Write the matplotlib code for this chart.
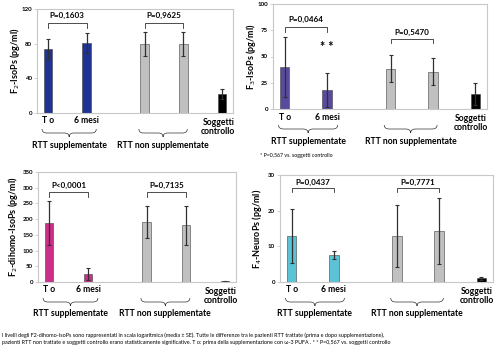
import numpy as np
import matplotlib.pyplot as plt
from matplotlib.path import Path
from matplotlib.patches import PathPatch
from matplotlib.transforms import blended_transform_factory

plt.rcParams['font.family'] = ['Lato', 'DejaVu Sans']

# bar positions: T0, 6 mesi | non suppl. T0, 6 mesi | controls
pos = [0, 1, 2.5, 3.5, 4.5]

f2_iso = [74, 81, 80, 79.5, 22]
f2_iso_err = [11.5, 11.5, 14, 14, 6]
f3_iso = [40, 18, 38.5, 35.5, 14.5]
f3_iso_err = [28.5, 16, 12.5, 13, 10.5]
f2_dihomo = [187, 26, 191, 180, 2]
f2_dihomo_err = [70, 19, 50, 61, 1]
f4_neuro = [12.9, 7.6, 13.0, 14.3, 1.0]
f4_neuro_err = [7.6, 1.2, 8.7, 9.2, 0.4]

W, H = 500, 353
fig = plt.figure(figsize=(W / 100, H / 100), dpi=100)


def fy(px):
    return 1 - px / H


def panel(rect_px, vals, errs, color, ylim, yticks, ylabel, pvals, ytext, ylab_x):
    l, r, t, b = rect_px
    ax = fig.add_axes([l / W, fy(b), (r - l) / W, (b - t) / H])
    cols = [color, color, '#c0c0c0', '#c0c0c0', 'black']
    ax.bar(pos, vals, width=0.22, color=cols, edgecolor='#404040', linewidth=0.4)
    ax.errorbar(pos, vals, yerr=errs, fmt='none', ecolor='#303030', elinewidth=0.9,
                capsize=1.2, capthick=0.8)
    ax.set_xlim(-0.28, 4.78)
    ax.set_ylim(*ylim)
    ax.set_yticks(yticks)
    ax.set_xticks([])
    ax.tick_params(axis='y', labelsize=4.4, length=2, width=0.5, pad=1.5, colors='#bfbfbf',
                   labelcolor='black')
    for lab in ax.get_yticklabels():
        lab.set_fontweight('bold')
    for s in ax.spines.values():
        s.set_color('#c8c8c8')
        s.set_linewidth(0.8)
    fig.text(ylab_x / W, fy((t + b) / 2), ylabel, rotation=90, fontsize=6.5,
             fontweight='bold', ha='center', va='center')

    tr = blended_transform_factory(ax.transData, fig.transFigure)
    # p-value brackets
    for (x0, x1, lab), (ty, top, down) in zip(pvals, ytext):
        ax.plot([x0, x0, x1, x1], [fy(down), fy(top), fy(top), fy(down)], color='#303030',
                lw=0.6, transform=tr, clip_on=False)
        ax.text((x0 + x1) / 2, fy(ty), lab, transform=tr, ha='center', va='center',
                fontsize=5.8, fontweight='bold')
    # category labels under axis
    y0 = b + 8
    ax.text(0, fy(y0), 'T o', transform=tr, ha='center', va='center', fontsize=6.2,
            fontweight='bold')
    ax.text(1, fy(y0), '6 mesi', transform=tr, ha='center', va='center', fontsize=6.2,
            fontweight='bold')
    ax.text(4.4, fy(y0 + 6), 'Soggetti\ncontrollo', transform=tr, ha='center',
            va='center', fontsize=6.2, fontweight='bold', linespacing=1.0)
    # braces
    for x0, x1, lab in [(-0.15, 1.25, 'RTT supplementate'),
                        (2.35, 3.6, 'RTT non supplementate')]:
        ya, yb, yc = fy(b + 16), fy(b + 20), fy(b + 24)
        xm = (x0 + x1) / 2
        dx = 0.12
        verts = [(x0, ya), (x0, yb), (x0 + dx, yb), (xm - dx, yb), (xm, yb), (xm, yc),
                 (xm, yb), (xm + dx, yb), (x1 - dx, yb), (x1, yb), (x1, ya)]
        codes = [Path.MOVETO, Path.CURVE3, Path.CURVE3, Path.LINETO, Path.CURVE3,
                 Path.CURVE3, Path.CURVE3, Path.CURVE3, Path.LINETO, Path.CURVE3,
                 Path.CURVE3]
        ax.add_patch(PathPatch(Path(verts, codes), fc='none', ec='#303030', lw=0.5,
                               transform=tr, clip_on=False))
        ax.text(xm, fy(b + 32), lab, transform=tr, ha='center', va='center',
                fontsize=6.2, fontweight='bold')
    return ax, tr


panel((37, 233, 9, 113), f2_iso, f2_iso_err, '#1f3394', (0, 120), [0, 40, 80, 120],
      'F$_2$-IsoPs (pg/ml)',
      [(0, 1, 'P=0,1603'), (2.5, 3.5, 'P=0,9625')],
      [(15, 23, 28), (15, 23, 28)], 15)

ax2, tr2 = panel((273, 487, 4, 109), f3_iso, f3_iso_err, '#5a4a9e', (0, 100),
                 [0, 25, 50, 75, 100], 'F$_3$-IsoPs (pg/ml)',
                 [(0, 1, 'P=0,0464'), (2.5, 3.5, 'P=0,5470')],
                 [(19, 27, 32), (32, 39, 43)], 251)
ax2.text(1, fy(47), '* *', transform=tr2, ha='center', va='center', fontsize=9,
         fontweight='bold')
fig.text(260 / W, fy(155), '* P=0,567 vs. soggetti controllo', fontsize=3.8,
         ha='left', va='center')

panel((38, 236, 172, 282), f2_dihomo, f2_dihomo_err, '#cc2f8a', (0, 350),
      [0, 50, 100, 150, 200, 250, 300, 350], 'F$_2$-dihomo-IsoPs (pg/ml)',
      [(0, 1, 'P<0,0001'), (2.5, 3.5, 'P=0,7135')],
      [(185, 192, 197), (185, 192, 197)], 13)

panel((280, 493, 175, 282), f4_neuro, f4_neuro_err, '#5cc3d6', (0, 30), [0, 10, 20, 30],
      'F$_4$-NeuroPs (pg/ml)',
      [(0, 1, 'P=0,0437'), (2.5, 3.5, 'P=0,7771')],
      [(182, 188, 192), (182, 188, 192)], 257)

caption = ("I livelli degli F2-dihomo-IsoPs sono rappresentati in scala logaritmica (media \u00b1 SE). "
           "Tutte le differenze tra le pazienti RTT trattate (prima e dopo supplementazione),\n"
           "pazienti RTT non trattate e soggetti controllo erano statisticamente significative. "
           "T o: prima della supplementazione con \u03c9-3 PUFA . * * P=0,567 vs. soggetti controllo")
fig.text(2 / W, fy(339), caption, fontsize=3.9, ha='left', va='center', linespacing=1.5)

fig.savefig('out.png', dpi=100)
